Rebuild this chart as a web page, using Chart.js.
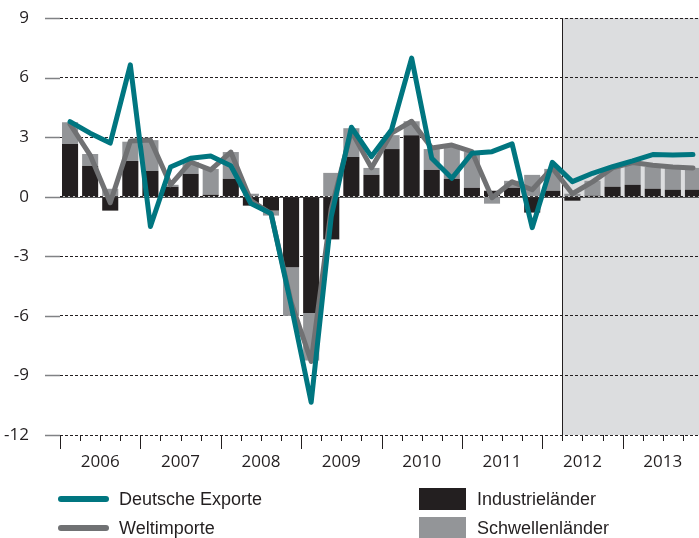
<!DOCTYPE html>
<html>
<head>
<meta charset="utf-8">
<script src="https://cdn.jsdelivr.net/npm/chart.js"></script>
<style>
  html, body { margin: 0; padding: 0; background: #fff; overflow: hidden; }
  #wrap { width: 699px; height: 538px; overflow: hidden; }
</style>
</head>
<body>
<div id="wrap"><canvas id="exportChart" width="703" height="538"></canvas></div>
<script>
// tick labels
var years = ['2006', '2007', '2008', '2009', '2010', '2011', '2012', '2013'];
var quarters = [];
years.forEach(function (y) {
    ['Q1', 'Q2', 'Q3', 'Q4'].forEach(function (q) { quarters.push(y + ' ' + q); });
});
var forecastStart = '2012 Q2';

// Veränderung gegenüber Vorquartal, %
var deutscheExporte = [3.78, 3.2, 2.7, 6.64, -1.5, 1.5, 1.94, 2.05,
    1.56, -0.34, -0.84, -5.45, -10.35, -1.0, 3.5, 2.02,
    3.37, 6.98, 1.94, 0.93, 2.19, 2.27, 2.66, -1.56,
    1.73, 0.76, 1.18, 1.51, 1.8, 2.12, 2.1, 2.12];
var weltimporte = [3.65, 2.1, -0.3, 2.8, 2.85, 0.6, 1.75, 1.35,
    2.25, -0.2, -0.85, -5.3, -8.3, -0.6, 3.3, 1.45,
    3.2, 3.8, 2.45, 2.6, 2.27, -0.05, 0.75, 0.35,
    1.45, 0.15, 0.75, 1.45, 1.72, 1.58, 1.5, 1.45];
var industrielaender = [2.65, 1.55, -0.7, 1.8, 1.3, 0.5, 1.15, 0.1,
    0.9, -0.45, -0.7, -3.55, -5.85, -2.15, 2.0, 1.1,
    2.4, 3.1, 1.35, 0.9, 0.45, 0.3, 0.45, -0.8,
    0.3, -0.2, 0.05, 0.5, 0.6, 0.4, 0.35, 0.35];
var schwellenlaender = [1.1, 0.6, 0.4, 0.97, 1.55, 0.1, 0.6, 1.3,
    1.35, 0.15, -0.25, -2.45, -2.4, 1.2, 1.45, 0.35,
    0.7, 0.7, 1.05, 1.6, 1.8, -0.35, 0.35, 1.1,
    1.1, 0.15, 0.75, 0.95, 1.1, 1.1, 1.1, 1.1];

var textColor = '#231f20';

var decor = {
    id: 'decor',
    beforeDraw: function (chart) {
        var ctx = chart.ctx, a = chart.chartArea, x = chart.scales.x;
        var half = (x.getPixelForValue(1) - x.getPixelForValue(0)) / 2;
        var fx = x.getPixelForValue(quarters.indexOf(forecastStart)) - half;
        ctx.save();
        ctx.fillStyle = '#dcdddf';
        ctx.fillRect(fx, a.top, a.right - fx, a.bottom - a.top);
        ctx.strokeStyle = textColor;
        ctx.lineWidth = 1;
        ctx.beginPath();
        ctx.moveTo(Math.round(fx) + 0.5, a.top);
        ctx.lineTo(Math.round(fx) + 0.5, a.bottom + 6);
        ctx.stroke();
        ctx.restore();
    },
    beforeDatasetsDraw: function (chart) {
        var ctx = chart.ctx, a = chart.chartArea, x = chart.scales.x, y = chart.scales.y;
        var half = (x.getPixelForValue(1) - x.getPixelForValue(0)) / 2;
        ctx.save();
        // kurze Striche an der y-Achse
        ctx.strokeStyle = '#808285';
        ctx.lineWidth = 1.5;
        y.ticks.forEach(function (t) {
            var py = Math.round(y.getPixelForValue(t.value)) + 0.5;
            ctx.beginPath();
            ctx.moveTo(a.left - 15, py);
            ctx.lineTo(a.left, py);
            ctx.stroke();
        });
        // Nulllinie
        var y0 = Math.round(y.getPixelForValue(0)) + 0.5;
        ctx.strokeStyle = '#58595b';
        ctx.lineWidth = 1;
        ctx.beginPath();
        ctx.moveTo(a.left, y0);
        ctx.lineTo(a.right, y0);
        ctx.stroke();
        // x-Achse Striche
        ctx.strokeStyle = textColor;
        for (var i = 0; i <= quarters.length; i++) {
            var px = Math.round(x.getPixelForValue(0) - half + i * 2 * half) + 0.5;
            var len = i % 4 === 0 ? 14 : 6;
            ctx.beginPath();
            ctx.moveTo(px, a.bottom);
            ctx.lineTo(px, a.bottom + len);
            ctx.stroke();
        }
        // Jahreszahlen
        ctx.fillStyle = textColor;
        ctx.font = '17px "Open Sans", sans-serif';
        ctx.textAlign = 'center';
        ctx.textBaseline = 'middle';
        years.forEach(function (yr, k) {
            var cx = (x.getPixelForValue(4 * k + 1) + x.getPixelForValue(4 * k + 2)) / 2;
            ctx.fillText(yr, cx, a.bottom + 27);
        });
        ctx.restore();
    },
    afterDraw: function (chart) {
        var ctx = chart.ctx;
        ctx.save();
        ctx.lineCap = 'round';
        ctx.lineWidth = 6;
        ctx.strokeStyle = '#007680';
        ctx.beginPath(); ctx.moveTo(61, 499); ctx.lineTo(106, 499); ctx.stroke();
        ctx.strokeStyle = '#707173';
        ctx.beginPath(); ctx.moveTo(61, 528); ctx.lineTo(106, 528); ctx.stroke();
        ctx.fillStyle = textColor;
        ctx.fillRect(419, 488, 47, 22);
        ctx.fillStyle = '#939598';
        ctx.fillRect(419, 517, 47, 22);
        ctx.fillStyle = textColor;
        ctx.font = '18px "Liberation Sans", Arial, sans-serif';
        ctx.textBaseline = 'middle';
        ctx.fillText('Deutsche Exporte', 119, 500);
        ctx.fillText('Weltimporte', 119, 529);
        ctx.fillText('Industrieländer', 477, 500);
        ctx.fillText('Schwellenländer', 477, 529);
        ctx.restore();
    }
};

var ctx = document.getElementById('exportChart').getContext('2d');
var exportChart = new Chart(ctx, {
    type: 'bar',
    data: {
        labels: quarters,
        datasets: [{
            type: 'line',
            label: 'Deutsche Exporte',
            data: deutscheExporte,
            borderColor: '#007680',
            borderWidth: 5,
            pointRadius: 0,
            tension: 0,
            borderJoinStyle: 'round',
            borderCapStyle: 'round',
            stack: 'l1',
            order: 0
        }, {
            type: 'line',
            label: 'Weltimporte',
            data: weltimporte,
            borderColor: '#707173',
            borderWidth: 5,
            pointRadius: 0,
            tension: 0,
            borderJoinStyle: 'round',
            borderCapStyle: 'round',
            stack: 'l2',
            order: 1
        }, {
            label: 'Industrieländer',
            data: industrielaender,
            backgroundColor: '#231f20',
            stack: 'bars',
            barPercentage: 0.8,
            categoryPercentage: 1.0,
            order: 2
        }, {
            label: 'Schwellenländer',
            data: schwellenlaender,
            backgroundColor: '#939598',
            stack: 'bars',
            barPercentage: 0.8,
            categoryPercentage: 1.0,
            order: 3
        }]
    },
    options: {
        responsive: false,
        animation: false,
        layout: { padding: { top: 18, left: 0, right: 0, bottom: 0 } },
        plugins: { legend: { display: false }, tooltip: { enabled: false } },
        scales: {
            x: {
                stacked: true,
                grid: { display: false },
                border: { display: false },
                ticks: { display: false },
                afterFit: function (scale) { scale.height = 103; }
            },
            y: {
                stacked: true,
                min: -12,
                max: 9,
                afterFit: function (scale) { scale.width = 60; },
                ticks: {
                    stepSize: 3,
                    padding: 0,
                    color: textColor,
                    font: { family: '"Open Sans", sans-serif', size: 17 }
                },
                border: { display: false, dash: [3, 2] },
                grid: {
                    color: '#231f20',
                    lineWidth: 1,
                    tickLength: 31,
                    tickColor: 'rgba(0,0,0,0)'
                }
            }
        }
    },
    plugins: [decor]
});
</script>
</body>
</html>
